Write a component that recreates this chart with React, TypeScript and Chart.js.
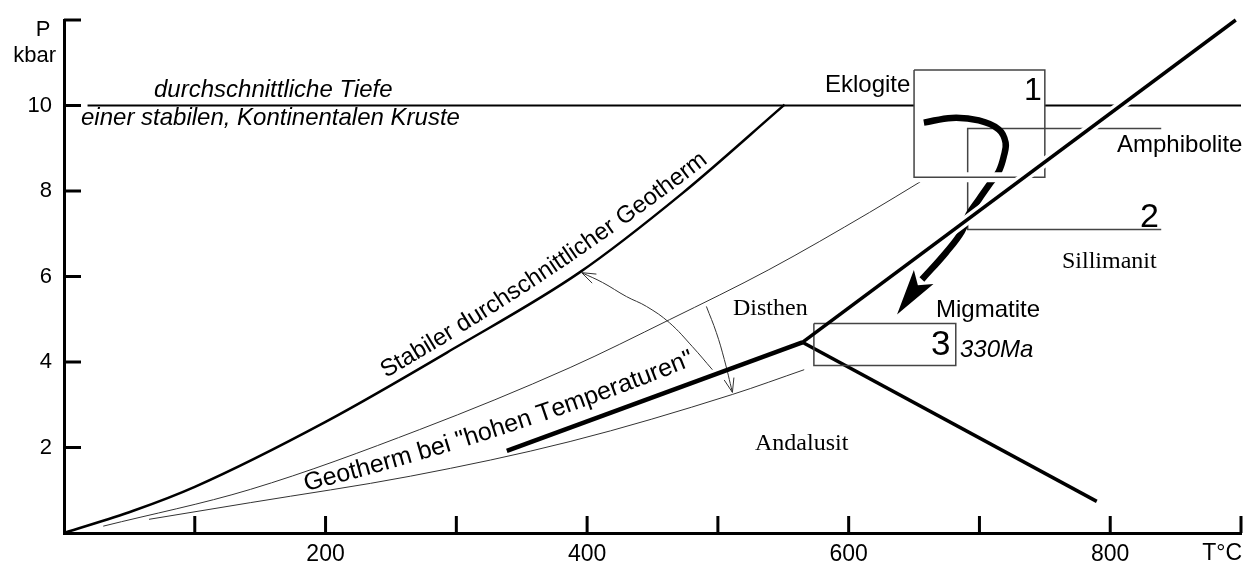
import React, { useEffect, useRef } from 'react';
import { Chart, registerables } from 'chart.js';

Chart.register(...registerables);

// ---------- data (T in °C, P in kbar) ----------
const xTickValues = [100, 200, 300, 400, 500, 600, 700, 800, 900];
const xTickLabels: Record<number, string> = { 200: '200', 400: '400', 600: '600', 800: '800' };
const yTickValues = [2, 4, 6, 8, 10, 12];
const yTickLabels: Record<number, string> = { 2: '2', 4: '4', 6: '6', 8: '8', 10: '10' };

const stableGeotherm = [[0, 0], [53, 0.52], [100, 1.08], [200, 2.6], [300, 4.35], [394, 6.09], [473, 7.95], [551, 10.02]];
const hotGeothermUpper = [[30, 0.16], [142.5, 1.02], [272, 2.42], [387, 3.87], [463, 4.99], [539, 6.16], [616, 7.5], [655, 8.22]];
const hotGeothermLower = [[65, 0.32], [142.5, 0.71], [265, 1.33], [387, 2.14], [511, 3.24], [566, 3.82]];
const depthLineWest = [[18, 10], [650, 10]];
const depthLineEast = [[750, 10], [900, 10]];
const kyaniteAndalusite = [[338.6, 1.92], [564.6, 4.46]];
const kyaniteSillimanite = [[564.6, 4.46], [896, 12.0]];
const sillimaniteAndalusite = [[564.6, 4.46], [789.7, 0.74]];
const box1 = [[650, 10.83], [750, 10.83], [750, 8.32], [650, 8.32], [650, 10.83]];
const box1Bottom = [[650, 8.32], [750, 8.32]];
const box2 = [[839, 9.46], [691, 9.46], [691, 7.1], [839, 7.1]];
const box3 = [[573.4, 4.9], [681.9, 4.9], [681.9, 3.92], [573.4, 3.92], [573.4, 4.9]];
const ptPath = [[657.5, 9.6], [679, 9.71], [699.5, 9.65], [714.8, 9.44], [720, 9.13], [718.6, 8.81], [714.8, 8.46], [708.7, 8.2], [699.5, 7.8], [691.7, 7.45], [686.5, 7.05], [674.4, 6.56], [656, 5.93]];
const ptPathTip = [637, 5.11];
const arcUp = [[495.8, 3.82], [480.5, 4.36], [462.9, 4.92], [445.4, 5.3], [430.1, 5.53], [411.8, 5.86], [395.8, 6.09]];
const arcDown = [[491.2, 5.3], [498.8, 4.69], [504.9, 4.06], [511.1, 3.29]];

const SANS = '"Liberation Sans", Arial, Helvetica, sans-serif';
const SERIF = '"Liberation Serif", "Times New Roman", serif';

const toXY = (a: number[][]) => a.map(([x, y]) => ({ x, y }));

function textOnCurve(ctx: CanvasRenderingContext2D, text: string, x: number, y: number, a0: number, a1: number, font: string) {
  ctx.save();
  ctx.font = font;
  ctx.textAlign = 'left';
  ctx.textBaseline = 'alphabetic';
  const total = ctx.measureText(text).width;
  let s = 0;
  let px = x;
  let py = y;
  for (const ch of text) {
    const w = ctx.measureText(ch).width;
    const a = ((a0 + ((a1 - a0) * (s + w / 2)) / total) * Math.PI) / 180;
    ctx.save();
    ctx.translate(px, py);
    ctx.rotate(-a);
    ctx.fillText(ch, 0, 0);
    ctx.restore();
    px += w * Math.cos(a);
    py -= w * Math.sin(a);
    s += w;
  }
  ctx.restore();
}

const annotations = {
  id: 'annotations',
  afterDatasetsDraw(chart: any) {
    const ctx: CanvasRenderingContext2D = chart.ctx;
    const xs = chart.scales.x;
    const ys = chart.scales.y;
    const pix = (p: number[]) => [xs.getPixelForValue(p[0]), ys.getPixelForValue(p[1])];

    // filled barbed arrowhead for the P-T path
    const tip = pix(ptPathTip);
    const base = pix(ptPath[ptPath.length - 1]);
    let dx = base[0] - tip[0];
    let dy = base[1] - tip[1];
    const len = Math.hypot(dx, dy);
    dx /= len; dy /= len;
    const L = 46, W = 12, N = 36;
    ctx.save();
    ctx.fillStyle = '#000';
    ctx.beginPath();
    ctx.moveTo(tip[0], tip[1]);
    ctx.lineTo(tip[0] + dx * L - dy * W, tip[1] + dy * L + dx * W);
    ctx.lineTo(tip[0] + dx * N, tip[1] + dy * N);
    ctx.lineTo(tip[0] + dx * L + dy * W, tip[1] + dy * L - dx * W);
    ctx.closePath();
    ctx.fill();
    ctx.restore();

    // open arrowheads for thin arcs
    const openHead = (arr: number[][]) => {
      const t = pix(arr[arr.length - 1]);
      const b = pix(arr[arr.length - 2]);
      let ux = b[0] - t[0];
      let uy = b[1] - t[1];
      const l = Math.hypot(ux, uy);
      ux /= l; uy /= l;
      const hl = 14, hw = 5;
      ctx.save();
      ctx.strokeStyle = '#333';
      ctx.lineWidth = 1;
      ctx.beginPath();
      ctx.moveTo(t[0] + ux * hl - uy * hw, t[1] + uy * hl + ux * hw);
      ctx.lineTo(t[0], t[1]);
      ctx.lineTo(t[0] + ux * hl + uy * hw, t[1] + uy * hl - ux * hw);
      ctx.stroke();
      ctx.restore();
    };
    openHead(arcUp);
    openHead(arcDown);
  },
  afterDraw(chart: any) {
    const ctx: CanvasRenderingContext2D = chart.ctx;
    const xs = chart.scales.x;
    const ys = chart.scales.y;
    const { left, bottom } = chart.chartArea;
    ctx.save();
    ctx.strokeStyle = '#000';
    ctx.lineWidth = 3;
    ctx.lineCap = 'butt';
    for (const v of xTickValues) {
      const x = xs.getPixelForValue(v);
      ctx.beginPath();
      ctx.moveTo(x, bottom);
      ctx.lineTo(x, bottom - 17);
      ctx.stroke();
    }
    for (const v of yTickValues) {
      const y = ys.getPixelForValue(v);
      ctx.beginPath();
      ctx.moveTo(left, y);
      ctx.lineTo(left + 17, y);
      ctx.stroke();
    }

    ctx.fillStyle = '#000';
    const put = (t: string, x: number, y: number, font: string, align: CanvasTextAlign = 'left', baseline: CanvasTextBaseline = 'alphabetic') => {
      ctx.font = font;
      ctx.textAlign = align;
      ctx.textBaseline = baseline;
      ctx.fillText(t, x, y);
    };
    // axis titles
    put('P', 43, 36, `22px ${SANS}`, 'center');
    put('kbar', 56, 62, `22px ${SANS}`, 'right');
    put('T°C', 1242, 554, `23px ${SANS}`, 'right', 'middle');

    // annotations
    put('durchschnittliche Tiefe', 154, 97, `italic 24px ${SANS}`);
    put('einer stabilen, Kontinentalen Kruste', 81, 125, `italic 24px ${SANS}`);
    put('Eklogite', 825, 92, `24px ${SANS}`);
    put('Amphibolite', 1117, 152, `24px ${SANS}`);
    put('Migmatite', 936, 317, `24px ${SANS}`);
    put('330Ma', 960, 357, `italic 24px ${SANS}`);
    put('1', 1024, 100, `32px ${SANS}`);
    put('2', 1140, 227, `34px ${SANS}`);
    put('3', 931, 355, `35px ${SANS}`);
    put('Disthen', 733, 315, `24px ${SERIF}`);
    put('Sillimanit', 1062, 268, `24px ${SERIF}`);
    put('Andalusit', 755, 450, `24px ${SERIF}`);

    textOnCurve(ctx, 'Stabiler durchschnittlicher Geotherm', 386, 378, 30, 37.5, `24px ${SANS}`);
    textOnCurve(ctx, 'Geotherm bei "hohen Temperaturen"', 306, 491, 14, 22, `25px ${SANS}`);
    ctx.restore();
  },
};

type Spec = { data: number[][]; width: number; color: string; tension?: number; mono?: boolean };

export default function App() {
  const ref = useRef<HTMLCanvasElement>(null);
  useEffect(() => {
    if (!ref.current) return;
    // draw list: bottom first
    const list: Spec[] = [
      { data: stableGeotherm, width: 2.5, color: '#000', mono: true },
      { data: hotGeothermUpper, width: 1, color: '#333', mono: true },
      { data: hotGeothermLower, width: 1, color: '#333', mono: true },
      { data: arcUp, width: 1, color: '#333', tension: 0.4 },
      { data: arcDown, width: 1, color: '#333', tension: 0.4 },
      { data: depthLineWest, width: 2, color: '#000' },
      { data: depthLineEast, width: 2, color: '#000' },
      { data: box2, width: 1.5, color: '#444' },
      { data: ptPath, width: 6.5, color: '#000', tension: 0.4 },
      { data: box1Bottom, width: 10, color: '#fff' },
      { data: box1, width: 1.5, color: '#444' },
      { data: kyaniteSillimanite, width: 10, color: '#fff' },
      { data: kyaniteAndalusite, width: 4.5, color: '#000' },
      { data: sillimaniteAndalusite, width: 3.5, color: '#000' },
      { data: box3, width: 1.5, color: '#444' },
      { data: kyaniteSillimanite, width: 3.5, color: '#000' },
    ];
    const N = list.length;
    const datasets = list.map((s, i) => ({
      data: toXY(s.data),
      borderColor: s.color,
      borderWidth: s.width,
      tension: s.mono ? 0.4 : s.tension ?? 0,
      cubicInterpolationMode: (s.mono ? 'monotone' : 'default') as any,
      pointRadius: 0,
      pointHoverRadius: 0,
      fill: false,
      showLine: true,
      order: N - i,
      clip: false as any,
    }));

    const zeroPad = (scale: any) => {
      scale.paddingLeft = 0;
      scale.paddingRight = 0;
      scale.paddingTop = 0;
      scale.paddingBottom = 0;
    };

    const chart = new Chart(ref.current, {
      type: 'line',
      data: { datasets },
      options: {
        animation: false,
        responsive: false,
        devicePixelRatio: 1,
        events: [],
        layout: { padding: { left: 0, top: 20, right: 2, bottom: 0 } },
        plugins: { legend: { display: false }, tooltip: { enabled: false } },
        scales: {
          x: {
            type: 'linear',
            min: 0,
            max: 900,
            afterBuildTicks: (scale: any) => {
              scale.ticks = [0, ...xTickValues].map((v) => ({ value: v }));
            },
            afterFit: (scale: any) => {
              scale.height = 30;
              zeroPad(scale);
            },
            grid: { display: false, drawTicks: false, tickLength: 0 },
            border: { display: true, width: 3, color: '#000' },
            ticks: {
              autoSkip: false,
              maxRotation: 0,
              padding: 8,
              color: '#000',
              font: { family: SANS, size: 23 },
              callback: (v: any) => xTickLabels[Number(v)] ?? '',
            },
          },
          y: {
            type: 'linear',
            min: 0,
            max: 12,
            afterBuildTicks: (scale: any) => {
              scale.ticks = [0, ...yTickValues].map((v) => ({ value: v }));
            },
            afterFit: (scale: any) => {
              scale.width = 64;
              zeroPad(scale);
            },
            grid: { display: false, drawTicks: false, tickLength: 0 },
            border: { display: true, width: 3, color: '#000' },
            ticks: {
              autoSkip: false,
              padding: 12,
              color: '#000',
              font: { family: SANS, size: 22 },
              callback: (v: any) => yTickLabels[Number(v)] ?? '',
            },
          },
        },
      },
      plugins: [annotations],
    });
    return () => chart.destroy();
  }, []);

  return (
    <div style={{ position: 'fixed', left: 0, top: 0, width: 1243, height: 563, background: '#fff' }}>
      <canvas ref={ref} width={1243} height={563} />
    </div>
  );
}
